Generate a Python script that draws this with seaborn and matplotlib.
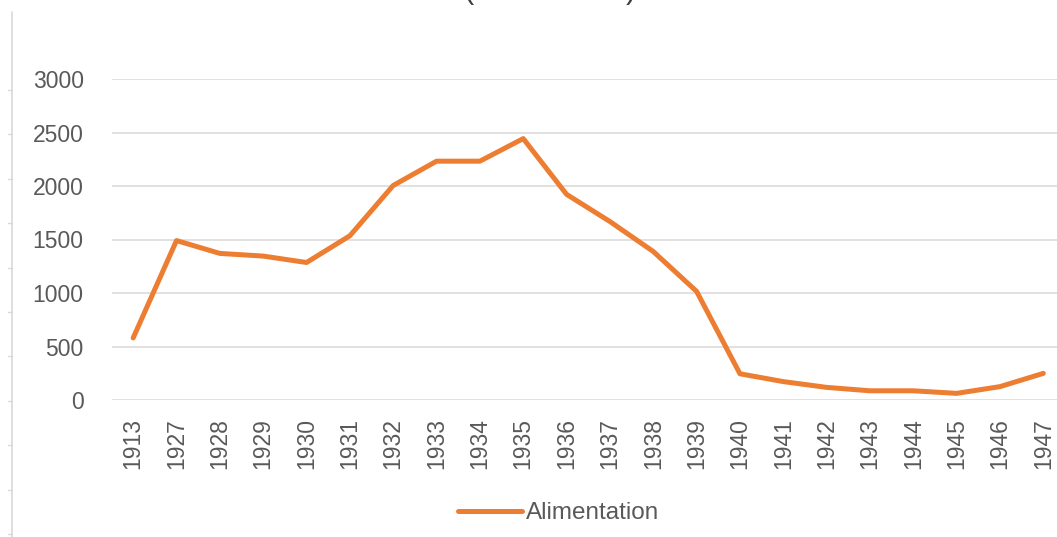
import matplotlib
matplotlib.use("Agg")
import matplotlib.pyplot as plt
from matplotlib.lines import Line2D
import seaborn as sns
import pandas as pd

years = ["1913", "1927", "1928", "1929", "1930", "1931", "1932", "1933", "1934", "1935",
         "1936", "1937", "1938", "1939", "1940", "1941", "1942", "1943", "1944", "1945",
         "1946", "1947"]
alimentation = [580, 1490, 1370, 1345, 1285, 1535, 2005, 2232, 2232, 2443,
                1922, 1668, 1388, 1015, 245, 172, 118, 86, 86, 62,
                125, 249]
series_name = "Alimentation"
y_ticks = [0, 500, 1000, 1500, 2000, 2500, 3000]

df = pd.DataFrame({"Année": years, "Valeur": alimentation, "Série": series_name})

sns.set_theme(style="white")
plt.rcParams["font.family"] = ["Liberation Sans", "DejaVu Sans"]

W, H = 1057, 537
fig = plt.figure(figsize=(W / 100, H / 100), dpi=100)
ax_left, ax_right = 111.5, 1065.0
ax_top, ax_bottom = 79, 400
ax = fig.add_axes([ax_left / W, (H - ax_bottom) / H, (ax_right - ax_left) / W, (ax_bottom - ax_top) / H])

orange = "#ED7D31"
grey_text = "#595959"
grid_c = "#D9D9D9"

sns.lineplot(data=df, x="Année", y="Valeur", hue="Série", palette=[orange],
             sort=False, linewidth=3.6, ax=ax, legend=False)

ax.set_xlim(-0.5, len(years) - 0.5)
ax.set_ylim(0, 3000)
ax.set_yticks(y_ticks)
ax.set_yticklabels([str(v) for v in y_ticks])
ax.yaxis.grid(True, color=grid_c, linewidth=1.1)
ax.xaxis.grid(False)
ax.set_axisbelow(True)
for s in ax.spines.values():
    s.set_visible(False)
ax.tick_params(axis="y", length=0, pad=20, labelsize=16.5, labelcolor=grey_text)
ax.tick_params(axis="x", length=0, pad=13, labelsize=16.5, labelcolor=grey_text, labelrotation=90)
ax.set_xlabel("")
ax.set_ylabel("")

handle = Line2D([0], [0], color=orange, linewidth=3.6, solid_capstyle="round")
fig.legend([handle], [series_name], loc="center", bbox_to_anchor=(559 / W, (H - 513) / H),
           frameon=False, fontsize=17.5, handlelength=2.6, handletextpad=0.2,
           labelcolor=grey_text)

# cropped title (only the lower parts of the parentheses remain visible)
fig.text(463 / W, 1.0 + 2 / H, "(", fontsize=22, color="#404040", va="baseline", ha="left")
fig.text(636 / W, 1.0 + 2 / H, ")", fontsize=22, color="#404040", va="baseline", ha="right")

# left frame border with small ticks
fig.add_artist(Line2D([12 / W, 12 / W], [0, (H - 12) / H], color=grid_c, linewidth=1.2))
ty = 90.0
while ty < H:
    fig.add_artist(Line2D([8 / W, 12 / W], [(H - ty) / H, (H - ty) / H], color=grid_c, linewidth=1.0))
    ty += 44.4

fig.savefig("out.png", dpi=100)
